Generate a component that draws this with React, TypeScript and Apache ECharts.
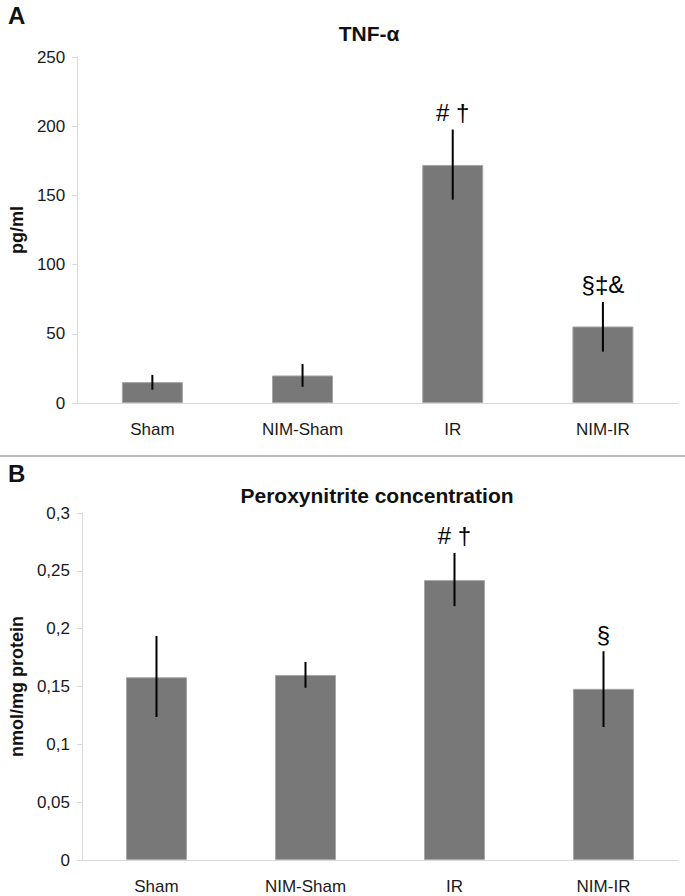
import React, { useEffect, useRef } from 'react';
import * as echarts from 'echarts';

const categories = ['Sham', 'NIM-Sham', 'IR', 'NIM-IR'];

const tnfMean = [15.1, 19.9, 172, 55.3];
const tnfErrLow = [9.6, 11.7, 146.9, 37.1];
const tnfErrHigh = [20.3, 28.2, 197.6, 73];
const tnfMarks = ['', '', '# †', '§‡&'];

const peroxMean = [0.158, 0.16, 0.242, 0.148];
const peroxErrLow = [0.1236, 0.1489, 0.2195, 0.115];
const peroxErrHigh = [0.1937, 0.1713, 0.2655, 0.1805];
const peroxMarks = ['', '', '# †', '§'];

const FONT = '"Liberation Sans", Arial, sans-serif';

function errorSeries(low: number[], high: number[], marks: string[], idx: number) {
  return {
    type: 'custom',
    xAxisIndex: idx,
    yAxisIndex: idx,
    z: 10,
    data: low.map((l, i) => [i, l, high[i]]),
    encode: { x: 0, y: [1, 2] },
    renderItem: (params: any, api: any) => {
      const pLow = api.coord([api.value(0), api.value(1)]);
      const pHigh = api.coord([api.value(0), api.value(2)]);
      const mark = marks[params.dataIndex];
      const children: any[] = [
        {
          type: 'line',
          shape: { x1: pLow[0], y1: pLow[1], x2: pHigh[0], y2: pHigh[1] },
          style: { stroke: '#000', lineWidth: 2 },
        },
      ];
      if (mark) {
        children.push({
          type: 'text',
          x: pHigh[0],
          y: pHigh[1] - 5,
          style: {
            text: mark,
            fill: '#000',
            fontSize: 24,
            fontFamily: FONT,
            align: 'center',
            verticalAlign: 'bottom',
          },
        });
      }
      return { type: 'group', children };
    },
  };
}

export default function App() {
  const ref = useRef<HTMLDivElement>(null);
  useEffect(() => {
    document.body.style.margin = '0';
    const chart = echarts.init(ref.current!, null, { renderer: 'svg' });
    const axisLabelStyle = { color: '#1a1a1a', fontSize: 17, fontFamily: FONT };
    const xAxisBase = {
      type: 'category',
      data: categories,
      axisLine: { lineStyle: { color: '#d9d9d9', width: 1 } },
      axisTick: { show: false },
      axisLabel: { ...axisLabelStyle, margin: 18 },
    };
    const yAxisBase = {
      type: 'value',
      min: 0,
      nameLocation: 'middle',
      nameRotate: 90,
      nameTextStyle: { fontWeight: 'bold', fontSize: 18, color: '#111', fontFamily: FONT },
      axisLine: { show: true, lineStyle: { color: '#d9d9d9', width: 1 } },
      axisTick: { show: true, length: 5, lineStyle: { color: '#d9d9d9' } },
      splitLine: { show: false },
    };
    const titleStyle = { fontSize: 21, fontWeight: 'bold', color: '#111', fontFamily: FONT };
    chart.setOption({
      animation: false,
      title: [
        { text: 'TNF-α', left: 364, top: 18, textAlign: 'center', textStyle: titleStyle },
        { text: 'Peroxynitrite concentration', left: 372, top: 480, textAlign: 'center', textStyle: titleStyle },
      ],
      graphic: [
        {
          type: 'text',
          left: 8,
          top: 3,
          style: { text: 'A', fontSize: 24, fontWeight: 'bold', fill: '#111', fontFamily: FONT },
        },
        {
          type: 'text',
          left: 8,
          top: 461,
          style: { text: 'B', fontSize: 24, fontWeight: 'bold', fill: '#111', fontFamily: FONT },
        },
        {
          type: 'line',
          shape: { x1: 0, y1: 456, x2: 685, y2: 456 },
          style: { stroke: '#bbbbbb', lineWidth: 2 },
        },
      ],
      grid: [
        { left: 74, right: 7, top: 57, height: 346 },
        { left: 74, right: 7, top: 513, height: 347 },
      ],
      xAxis: [
        { ...xAxisBase, gridIndex: 0 },
        { ...xAxisBase, gridIndex: 1 },
      ],
      yAxis: [
        {
          ...yAxisBase,
          gridIndex: 0,
          max: 250,
          interval: 50,
          name: 'pg/ml',
          nameGap: 42,
          axisLabel: { ...axisLabelStyle, margin: 12 },
        },
        {
          ...yAxisBase,
          gridIndex: 1,
          max: 0.3,
          interval: 0.05,
          name: 'nmol/mg protein',
          nameGap: 42,
          axisLabel: {
            ...axisLabelStyle,
            margin: 12,
            formatter: (v: number) => String(Math.round(v * 100) / 100).replace('.', ','),
          },
        },
      ],
      series: [
        {
          type: 'bar',
          xAxisIndex: 0,
          yAxisIndex: 0,
          data: tnfMean,
          barWidth: 61,
          itemStyle: { color: '#787878', borderColor: '#a6a6a6', borderWidth: 1 },
        },
        {
          type: 'bar',
          xAxisIndex: 1,
          yAxisIndex: 1,
          data: peroxMean,
          barWidth: 61,
          itemStyle: { color: '#787878', borderColor: '#a6a6a6', borderWidth: 1 },
        },
        errorSeries(tnfErrLow, tnfErrHigh, tnfMarks, 0),
        errorSeries(peroxErrLow, peroxErrHigh, peroxMarks, 1),
      ],
    });
    return () => chart.dispose();
  }, []);
  return <div ref={ref} style={{ width: 685, height: 896 }} />;
}
